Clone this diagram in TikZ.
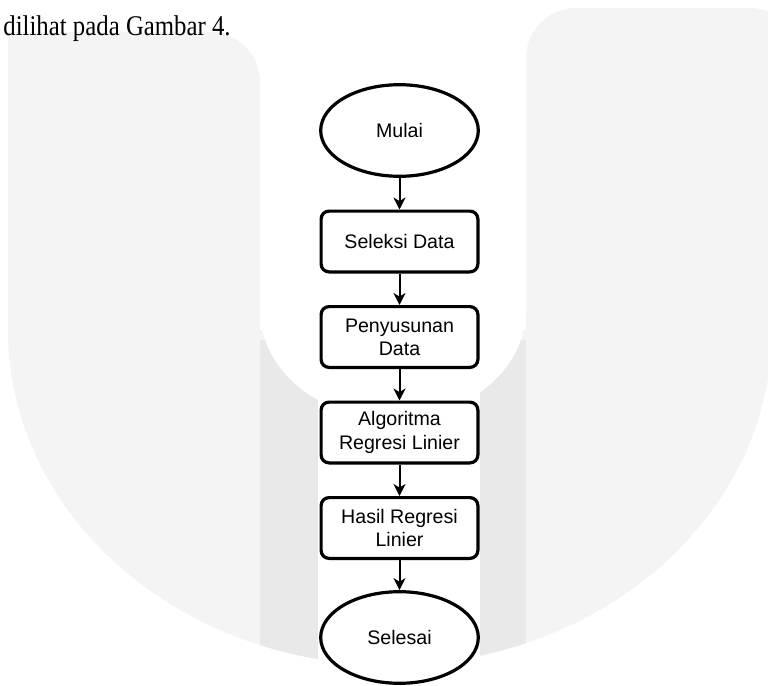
\documentclass[tikz,border=0pt]{standalone}
\usepackage{fontspec}
\setmainfont{Liberation Serif}
\newfontfamily\flowfont{Liberation Sans}
\usetikzlibrary{shapes.geometric, arrows.meta}
\definecolor{watermarklight}{RGB}{244, 244, 244}
\definecolor{watermarkdark}{RGB}{233, 233, 233}

\begin{document}
\begin{tikzpicture}[
    x=0.5pt, y=0.5pt,
    >={Stealth[length=6pt, width=6pt, inset=1.8pt]},
    terminal/.style={ellipse, draw=black, fill=white, line width=1.6pt, minimum width=78.8pt, minimum height=45.8pt, align=center, font=\flowfont\fontsize{9.8}{11.6}\selectfont},
    process/.style={rectangle, rounded corners=4pt, draw=black, fill=white, line width=1.6pt, minimum width=78.4pt, minimum height=30.4pt, align=center, font=\flowfont\fontsize{9.8}{11.6}\selectfont},
    arrow/.style={->, line width=1pt},
    body/.style={font=\fontsize{12.4}{15}\selectfont, inner sep=0pt}
]
\useasboundingbox (0,0) rectangle (768,-686);

% === Watermark ===
\fill[watermarklight, rounded corners=25pt] (8,-330) rectangle (260,-32);
\fill[watermarklight] (8,-330) rectangle (150,-32);
\fill[watermarklight] (8,-330) rectangle (260,-250);
\fill[watermarklight, rounded corners=25pt] (526,-330) rectangle (800,-8);
\fill[watermarklight] (526,-330) rectangle (768,-250);
\begin{scope}
\clip (0,-330) rectangle (768,-686);
\clip (390,-330) ellipse [x radius=382, y radius=335];
\fill[watermarklight] (0,-330) rectangle (768,-686);
\fill[watermarkdark] (260,-340) rectangle (318,-686);
\fill[watermarkdark] (480,-340) rectangle (526,-686);
\end{scope}
\fill[white] (260,0) -- (260,-310) arc [start angle=180, end angle=360, x radius=133, y radius=109] -- (526,0) -- cycle;
\fill[white] (318,-80) rectangle (480,-686);

% Text
\node[body, anchor=base west] (kalimat) at (3,-35) {\scalebox{1}[1.15]{dilihat pada Gambar 4.}};

% === Flowchart ===
\node[terminal] (mulai) at (399.5,-130.5) {Mulai};
\node[process] (seleksi) at (399.5,-241.5) {Seleksi Data};
\node[process] (penyusunan) at (399.5,-337) {Penyusunan\\Data};
\node[process] (algoritma) at (399.5,-432.5) {Algoritma\\Regresi Linier};
\node[process] (hasil) at (399.5,-528) {Hasil Regresi\\Linier};
\node[terminal] (selesai) at (399.5,-637.5) {Selesai};

% Arrows
\draw[arrow] (mulai) -- (seleksi);
\draw[arrow] (seleksi) -- (penyusunan);
\draw[arrow] (penyusunan) -- (algoritma);
\draw[arrow] (algoritma) -- (hasil);
\draw[arrow] (hasil) -- (selesai);

\end{tikzpicture}
\end{document}
